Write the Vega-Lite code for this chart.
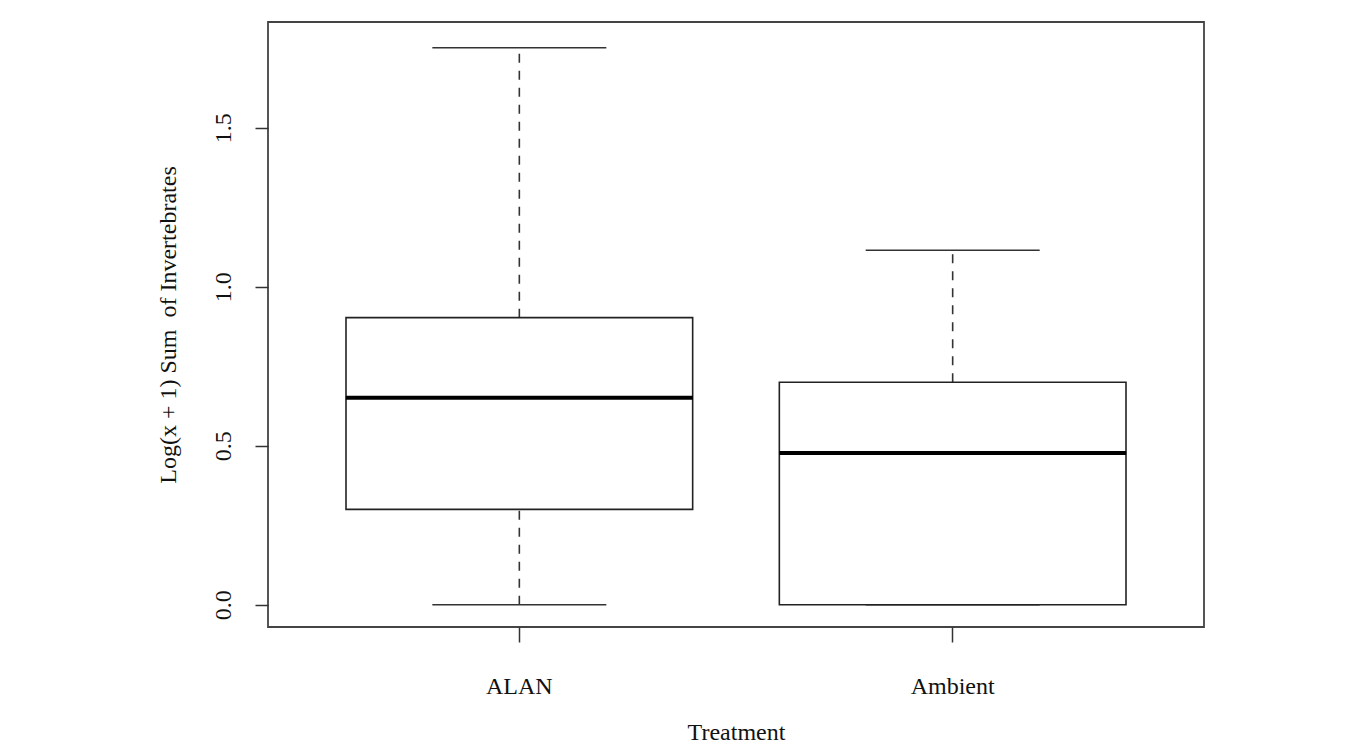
{
  "$schema": "https://vega.github.io/schema/vega-lite/v6.json",
  "autosize": "none",
  "width": 936,
  "height": 605,
  "padding": {"left": 268, "top": 22, "right": 158, "bottom": 116},
  "background": "white",
  "config": {
    "view": {"stroke": "#444", "strokeWidth": 1.8},
    "font": "Liberation Serif"
  },
  "data": {
    "values": [
      {"Treatment": "ALAN", "min": 0, "q1": 0.30, "median": 0.651, "q3": 0.903, "max": 1.752},
      {"Treatment": "Ambient", "min": 0, "q1": 0, "median": 0.477, "q3": 0.700, "max": 1.115}
    ]
  },
  "encoding": {
    "x": {
      "field": "Treatment",
      "type": "nominal",
      "sort": null,
      "scale": {"paddingInner": 0.2, "paddingOuter": 0.18},
      "axis": {
        "title": "Treatment",
        "labelAngle": 0,
        "domain": false,
        "grid": false,
        "tickSize": 15,
        "tickColor": "#333",
        "tickWidth": 1.5,
        "labelFont": "Liberation Serif",
        "labelFontSize": 24,
        "labelColor": "#111",
        "labelPadding": 32,
        "titleFont": "Liberation Serif",
        "titleFontSize": 24,
        "titleFontWeight": "normal",
        "titleColor": "#111",
        "titlePadding": 22
      }
    }
  },
  "layer": [
    {
      "mark": {"type": "rule", "color": "#333", "strokeWidth": 1.6, "strokeDash": [9, 8]},
      "encoding": {
        "y": {
          "field": "q3",
          "type": "quantitative",
          "scale": {"domain": [-0.07, 1.833], "nice": false, "zero": false},
          "axis": {
            "title": "Log(x + 1) Sum \u00a0of Invertebrates",
            "values": [0, 0.5, 1, 1.5],
            "format": ".1f",
            "domain": false,
            "grid": false,
            "tickSize": 13,
            "tickColor": "#333",
            "tickWidth": 1.5,
            "labelAngle": -90,
            "labelAlign": "center",
            "labelBaseline": "bottom",
            "labelPadding": 20,
            "labelFont": "Liberation Serif",
            "labelFontSize": 24,
            "labelColor": "#111",
            "titleFont": "Liberation Serif",
            "titleFontSize": 24,
            "titleFontWeight": "normal",
            "titleColor": "#111",
            "titlePadding": 31
          }
        },
        "y2": {"field": "max"}
      }
    },
    {
      "mark": {"type": "rule", "color": "#333", "strokeWidth": 1.6, "strokeDash": [9, 8]},
      "encoding": {
        "y": {"field": "min", "type": "quantitative"},
        "y2": {"field": "q1"}
      }
    },
    {
      "mark": {"type": "tick", "color": "#333", "size": 174, "thickness": 1.6, "opacity": 1},
      "encoding": {"y": {"field": "max", "type": "quantitative"}}
    },
    {
      "mark": {"type": "tick", "color": "#333", "size": 174, "thickness": 1.6, "opacity": 1},
      "encoding": {"y": {"field": "min", "type": "quantitative"}}
    },
    {
      "mark": {"type": "bar", "fill": "white", "stroke": "#222", "strokeWidth": 1.6, "opacity": 1},
      "encoding": {
        "y": {"field": "q1", "type": "quantitative"},
        "y2": {"field": "q3"}
      }
    },
    {
      "mark": {"type": "tick", "color": "#000", "size": 347, "thickness": 4, "opacity": 1},
      "encoding": {"y": {"field": "median", "type": "quantitative"}}
    }
  ]
}
